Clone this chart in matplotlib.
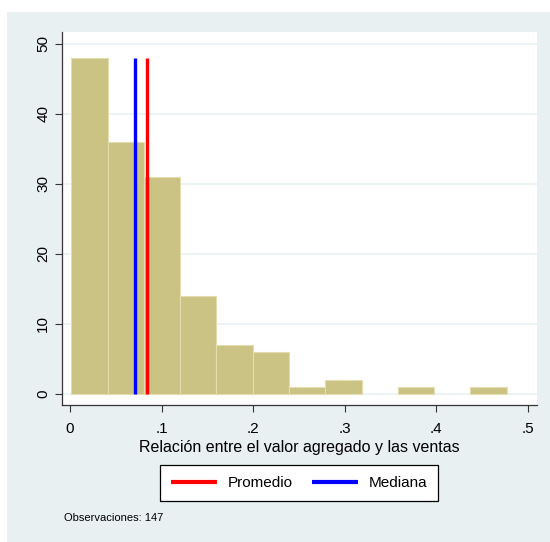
import matplotlib
matplotlib.use("Agg")
import matplotlib.pyplot as plt
from matplotlib.patches import Rectangle
import numpy as np

plt.rcParams['font.family'] = ['Liberation Sans', 'DejaVu Sans']

# histogram data
bin_edges = [0.0015, 0.0411, 0.0807, 0.1203, 0.1599, 0.1995, 0.2391,
             0.2787, 0.3183, 0.3579, 0.3975, 0.4371, 0.4767]
counts = [48, 36, 31, 14, 7, 6, 1, 2, 0, 1, 0, 1]
mean_val = 0.084
median_val = 0.071
n_obs = 147

xticks = [0, 0.1, 0.2, 0.3, 0.4, 0.5]
xticklabels = ["0", ".1", ".2", ".3", ".4", ".5"]
yticks = [0, 10, 20, 30, 40, 50]

W, H = 550, 542
fig = plt.figure(figsize=(W / 100, H / 100), dpi=100)
fig.patch.set_facecolor("white")
# light panel behind everything (Stata style)
fig.patches.append(Rectangle((7 / W, 0), 1 - 7 / W, (H - 12) / H,
                             transform=fig.transFigure, facecolor="#E8F0F2",
                             edgecolor="none", zorder=-5))

ax = fig.add_axes([62 / W, (H - 405) / H, (537 - 62) / W, (405 - 32) / H])
ax.set_zorder(2)
ax.set_facecolor("white")

edges = np.array(bin_edges)
cnt = np.array(counts)
keep = cnt > 0
ax.bar(edges[:-1][keep], cnt[keep], width=np.diff(edges)[keep], align="edge",
       color="#CBC383", edgecolor="#E3DDB0", linewidth=0.8, zorder=2)

ax.plot([mean_val, mean_val], [0, 48], color="red", lw=2.4, zorder=3,
        solid_capstyle="butt", label="Promedio")
ax.plot([median_val, median_val], [0, 48], color="blue", lw=2.4, zorder=3,
        solid_capstyle="butt", label="Mediana")

ax.set_xlim(-0.0087, 0.5098)
ax.set_ylim(-1.6, 51.7)
ax.set_xticks(xticks)
ax.set_xticklabels(xticklabels)
ax.set_yticks(yticks)
ax.set_yticklabels([str(v) for v in yticks], rotation=90, va="center")
ax.tick_params(labelsize=11, length=5, width=0.8, color="#333333")
ax.tick_params(axis="x", pad=7)
ax.yaxis.grid(True, color="#EAF2F3", lw=1.2, zorder=0)
ax.set_axisbelow(True)
for s in ["top", "right"]:
    ax.spines[s].set_visible(False)
for s in ["left", "bottom"]:
    ax.spines[s].set_color("#333333")
    ax.spines[s].set_linewidth(0.9)

ax.set_xlabel("Relación entre el valor agregado y las ventas", fontsize=11.5,
              labelpad=3)

leg = fig.legend(loc="center", bbox_to_anchor=(299 / W, (H - 483) / H),
                 ncol=2, fontsize=11, handlelength=3.0, columnspacing=1.3,
                 fancybox=False, framealpha=1, edgecolor="black",
                 borderpad=0.7, handletextpad=0.7)
leg.get_frame().set_linewidth(0.9)
for line in leg.get_lines():
    line.set_linewidth(3)

fig.text(64 / W, (H - 518) / H, f"Observaciones: {n_obs}", fontsize=8,
         va="center", ha="left")

fig.savefig("out.png", dpi=100, facecolor=fig.get_facecolor())
